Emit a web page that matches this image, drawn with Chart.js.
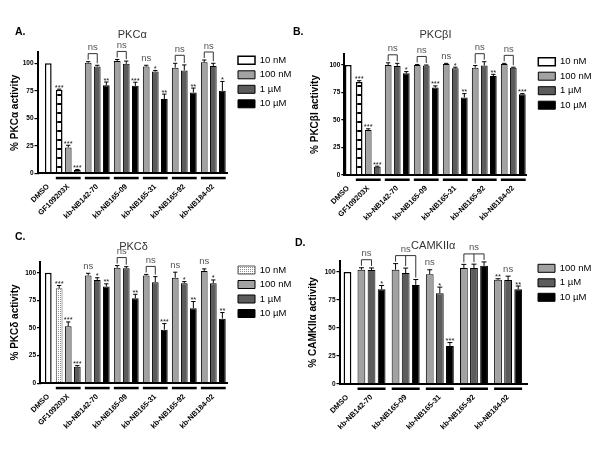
<!DOCTYPE html>
<html>
<head>
<meta charset="utf-8">
<script src="https://cdn.jsdelivr.net/npm/chart.js@4/dist/chart.umd.min.js"></script>
<style>
html,body{margin:0;padding:0;background:#fff;}
#wrap{position:relative;width:600px;height:450px;overflow:hidden;background:#fff;}
canvas{position:absolute;display:block;}
</style>
</head>
<body>
<div id="wrap">
<canvas id="cA" width="300" height="225" style="left:0;top:0;width:300px;height:225px"></canvas>
<canvas id="cB" width="315" height="225" style="left:285px;top:0;width:315px;height:225px"></canvas>
<canvas id="cC" width="300" height="225" style="left:0;top:225px;width:300px;height:225px"></canvas>
<canvas id="cD" width="315" height="225" style="left:285px;top:225px;width:315px;height:225px"></canvas>
</div>
<script>
const FONT = '"Liberation Sans", Arial, Helvetica, sans-serif';
Chart.defaults.font.family = FONT;
Chart.defaults.color = '#000';

// ---------------- categories / ticks ----------------
const groupsABC = ['DMSO','GF109203X','kb-NB142-70','kb-NB165-09','kb-NB165-31','kb-NB165-92','kb-NB184-02'];
const groupsD   = ['DMSO','kb-NB142-70','kb-NB165-09','kb-NB165-31','kb-NB165-92','kb-NB184-02'];
const yTicks = [0, 25, 50, 75, 100];

// ---------------- Panel A : PKCα ----------------
const a_dmso    = [100, null, null, null, null, null, null];
const a_10nM    = [null, 76, null, null, null, null, null];
const a_100nM   = [null, 23.5, 100.5, 102, 97, 96, 101];
const a_1uM     = [null, 3, 97, 99.5, 92.5, 93.5, 97.5];
const a_10uM    = [null, null, 80, 79.5, 67.5, 73.5, 75];
const a_err10nM  = [null, 0.5, null, null, null, null, null];
const a_err100nM = [null, 2, 1, 1.5, 1.2, 4, 2];
const a_err1uM   = [null, 0.5, 1.2, 2.5, 1, 5, 2.5];
const a_err10uM  = [null, null, 3, 3.3, 4.5, 4, 8.5];
const a_sig10nM  = ['', '***', '', '', '', '', ''];
const a_sig100nM = ['', '***', '', '', 'ns', '', ''];
const a_sig1uM   = ['', '***', '', '', '*', '', ''];
const a_sig10uM  = ['', '', '**', '***', '**', '**', '*'];
const a_brackets = ['', '', 'pair', 'pair', '', 'pair', 'pair'];

// ---------------- Panel B : PKCβI ----------------
const b_dmso    = [100, null, null, null, null, null, null];
const b_10nM    = [null, 84.5, null, null, null, null, null];
const b_100nM   = [null, 41, 100, 100, 101, 97.5, 101];
const b_1uM     = [null, 7.5, 99, 99.5, 97, 99.5, 97.5];
const b_10uM    = [null, null, 92.5, 79.5, 70.5, 90, 73.5];
const b_err10nM  = [null, 1.2, null, null, null, null, null];
const b_err100nM = [null, 1, 2, 0.5, 0.5, 2, 0.5];
const b_err1uM   = [null, 0.5, 2.5, 0.5, 1, 3.5, 0.5];
const b_err10uM  = [null, null, 1.5, 1.5, 3.5, 1.5, 0.5];
const b_sig10nM  = ['', '***', '', '', '', '', ''];
const b_sig100nM = ['', '***', '', '', 'ns', '', ''];
const b_sig1uM   = ['', '***', '', '', '*', '', ''];
const b_sig10uM  = ['', '', '*', '***', '**', '**', '***'];
const b_brackets = ['', '', 'pair', 'pair', '', 'pair', 'pair'];

// ---------------- Panel C : PKCδ ----------------
const c_dmso    = [100, null, null, null, null, null, null];
const c_10nM    = [null, 86, null, null, null, null, null];
const c_100nM   = [null, 51.5, 97.5, 104.5, 97.5, 95.5, 101.5];
const c_1uM     = [null, 15, 93.5, 104, 91.5, 90.5, 90.5];
const c_10uM    = [null, null, 87.5, 77, 48.5, 68, 58.5];
const c_err10nM  = [null, 2.5, null, null, null, null, null];
const c_err100nM = [null, 4, 2, 2, 1, 5, 2];
const c_err1uM   = [null, 1, 2, 1.5, 5, 1.5, 3];
const c_err10uM  = [null, null, 2.5, 3.5, 5.5, 6, 5.5];
const c_sig10nM  = ['', '***', '', '', '', '', ''];
const c_sig100nM = ['', '***', 'ns', '', '', 'ns', 'ns'];
const c_sig1uM   = ['', '***', '*', '', '', '*', '*'];
const c_sig10uM  = ['', '', '**', '**', '***', '**', '**'];
const c_brackets = ['', '', '', 'pair', 'pair', '', ''];

// ---------------- Panel D : CAMKIIα ----------------
const d_dmso    = [100, null, null, null, null, null];
const d_100nM   = [null, 102, 102, 98, 103.5, 93];
const d_1uM     = [null, 101.8, 99, 81, 103.5, 92.8];
const d_10uM    = [null, 84.5, 88.5, 34, 105.5, 84.5];
const d_err100nM = [null, 1.8, 5.5, 4, 3.3, 1];
const d_err1uM   = [null, 1.8, 4.5, 5.5, 3.5, 3.5];
const d_err10uM  = [null, 3.5, 4.8, 3, 3.5, 3];
const d_sig100nM = ['', '', '', 'ns', '', '**'];
const d_sig1uM   = ['', '', '', '*', '', 'ns'];
const d_sig10uM  = ['', '*', '', '***', '', '**'];
const d_brackets = ['', 'pair', 'all', '', 'all', ''];

// ---------------- styles ----------------
const C100 = '#a2a2a2', C1 = '#5c5c5c', C10 = '#000000';
function rungPattern() {
  const c = document.createElement('canvas'); c.width = 8; c.height = 9;
  const g = c.getContext('2d');
  g.fillStyle = '#fff'; g.fillRect(0, 0, 8, 9);
  g.fillStyle = '#000'; g.fillRect(0, 4, 5, 2);
  return g.createPattern(c, 'repeat');
}
function dotPattern() {
  const c = document.createElement('canvas'); c.width = 2; c.height = 2;
  const g = c.getContext('2d');
  g.fillStyle = '#fff'; g.fillRect(0, 0, 2, 2);
  g.fillStyle = '#8a8a8a'; g.fillRect(0, 0, 1, 1);
  return g.createPattern(c, 'repeat');
}
const RUNG = rungPattern();
const DOTS = dotPattern();

// ---------------- plugins ----------------
const annot = {
  id: 'annot',
  afterDatasetsDraw(chart, args, o) {
    const ctx = chart.ctx, ys = chart.scales.y, xs = chart.scales.x;
    const gb = [];
    ctx.save();
    chart.data.datasets.forEach((ds, di) => {
      const meta = chart.getDatasetMeta(di);
      meta.data.forEach((el, j) => {
        const d = ds.data[j];
        const top = ys.getPixelForValue(d.y);
        const errTop = ys.getPixelForValue(d.y + (d.err || 0));
        if (d.err) {
          const cap = el.width * 0.32;
          ctx.strokeStyle = '#000'; ctx.lineWidth = 1;
          ctx.beginPath();
          ctx.moveTo(el.x, top); ctx.lineTo(el.x, errTop);
          ctx.moveTo(el.x - cap, errTop); ctx.lineTo(el.x + cap, errTop);
          ctx.stroke();
        }
        if (d.sig) {
          ctx.textAlign = 'center'; ctx.textBaseline = 'alphabetic';
          if (d.sig === 'ns') {
            ctx.fillStyle = '#555'; ctx.font = '9.5px ' + FONT;
            ctx.fillText('ns', el.x, errTop - 4.5);
          } else {
            ctx.fillStyle = '#222'; ctx.font = '7.5px ' + FONT;
            ctx.fillText(d.sig, el.x, errTop + 0.5);
          }
        }
        (gb[d.g] = gb[d.g] || []).push({x: el.x, w: el.width, errTop, slot: d.x});
      });
    });
    gb.forEach((bars, gi) => {
      if (!bars) return;
      bars.sort((a, b) => a.slot - b.slot);
      if (bars.length > 1) {
        const first = bars[0], last = bars[bars.length - 1];
        const l = first.x - first.w / 2, r = last.x + last.w / 2;
        ctx.fillStyle = '#000';
        ctx.fillRect(l, xs.top + 3.5, r - l, 2.5);
      }
      const br = o.brackets[gi];
      if (br) {
        const span = br === 'pair' ? bars.slice(0, 2) : bars;
        const level = Math.min(...span.map(b => b.errTop)) - 8;
        ctx.strokeStyle = '#333'; ctx.lineWidth = 1;
        ctx.beginPath();
        ctx.moveTo(span[0].x, level); ctx.lineTo(span[span.length - 1].x, level);
        span.forEach(b => { ctx.moveTo(b.x, level); ctx.lineTo(b.x, Math.max(level + 4, b.errTop - 2)); });
        ctx.stroke();
        const mid = span.length === 3 ? span[1].x : (span[0].x + span[1].x) / 2;
        ctx.fillStyle = '#555'; ctx.font = '9.5px ' + FONT;
        ctx.textAlign = 'center'; ctx.textBaseline = 'alphabetic';
        ctx.fillText('ns', mid, level - 3.5);
      }
    });
    ctx.restore();
  }
};
const letter = {
  id: 'letter',
  afterDraw(chart, args, o) {
    const ctx = chart.ctx;
    ctx.save();
    ctx.font = 'bold 10.5px ' + FONT; ctx.fillStyle = '#000';
    ctx.textAlign = 'left'; ctx.textBaseline = 'middle';
    ctx.fillText(o.text, o.x, o.y);
    ctx.restore();
  }
};

// ---------------- builder ----------------
function buildChart(canvasId, P) {
  const G = P.geom;
  let start = 0;
  const centers = [];
  const xpos = P.series.map(() => []);
  P.groups.forEach((g, gi) => {
    let k = 0;
    P.series.forEach((s, si) => {
      if (s.values[gi] != null) { xpos[si][gi] = start + k; k++; } else xpos[si][gi] = null;
    });
    centers.push(start + (k - 1) / 2);
    start += k + G.groupGap;
  });
  const datasets = P.series.map((s, si) => ({
    label: s.label,
    data: P.groups.map((g, gi) => s.values[gi] == null ? null : {
      x: xpos[si][gi], y: s.values[gi],
      err: s.errs ? (s.errs[gi] || 0) : 0,
      sig: s.sigs ? s.sigs[gi] : '', g: gi
    }).filter(d => d),
    backgroundColor: s.bg, borderColor: s.border || '#000', borderWidth: s.bw || 1,
    grouped: false, barPercentage: G.barPct, categoryPercentage: 1,
    legendFill: s.legendFill
  }));
  return new Chart(document.getElementById(canvasId), {
    type: 'bar',
    data: {datasets},
    plugins: [annot, letter],
    options: {
      responsive: false, animation: false, devicePixelRatio: 1,
      layout: {padding: {top: 0, left: 0, right: 5, bottom: 0}},
      scales: {
        x: {
          type: 'linear', min: G.xMin, max: G.xMax, offset: false,
          grid: {display: false, drawTicks: false},
          border: {display: true, color: '#000', width: 2, z: 1},
          afterBuildTicks: s => { s.ticks = centers.map(v => ({value: v})); },
          afterFit: s => { s.height = G.xAxisH; },
          ticks: {autoSkip: false, minRotation: 45, maxRotation: 45, padding: 9, color: '#000',
                  font: {size: 7.5, weight: 'bold'}, callback: (v, i) => P.groups[i]}
        },
        y: {
          type: 'linear', min: 0, max: 110,
          afterBuildTicks: s => { s.ticks = yTicks.map(v => ({value: v})); },
          afterFit: s => { s.width = G.yAxisW; },
          grid: {display: true, drawOnChartArea: false, drawTicks: true, tickLength: 3, color: '#000', lineWidth: 1.2},
          border: {display: true, color: '#000', width: 2, z: 1},
          ticks: {padding: 1, color: '#000', font: {size: 6.5, weight: 'bold'}},
          title: {display: true, text: P.yTitle, color: '#000', font: {size: 10, weight: 'bold'},
                  padding: {top: G.yTitlePad, bottom: 0}}
        },
        gap: {
          type: 'linear', position: 'right', display: true,
          grid: {display: false}, border: {display: false}, ticks: {display: false},
          afterFit: s => { s.width = G.gapW; }
        }
      },
      plugins: {
        title: {display: true, text: P.title, fullSize: false, color: '#333',
                font: {size: 11, weight: 'normal'}, padding: G.titlePad},
        legend: {
          position: 'right', align: 'start', maxWidth: G.lgMaxW,
          title: {display: true, text: '', font: {size: 1}, padding: {top: G.lgTitleH - 1.2, bottom: 0}},
          labels: {
            boxWidth: 17, boxHeight: 8, padding: 5, color: '#000', font: {size: 9.5},
            generateLabels(chart) {
              return Chart.defaults.plugins.legend.labels.generateLabels(chart)
                .filter(it => it.text !== 'DMSO')
                .map(it => { const ds = chart.data.datasets[it.datasetIndex]; if (ds.legendFill) it.fillStyle = ds.legendFill; return it; });
            }
          }
        },
        tooltip: {enabled: false},
        annot: {brackets: P.brackets},
        letter: G.letter
      }
    }
  });
}

buildChart('cA', {
  groups: groupsABC, title: 'PKCα', yTitle: '% PKCα activity', brackets: a_brackets,
  series: [
    {label: 'DMSO', values: a_dmso, bg: '#fff', bw: 1.5},
    {label: '10 nM', values: a_10nM, errs: a_err10nM, sigs: a_sig10nM, bg: RUNG, bw: 1.5, legendFill: '#fff'},
    {label: '100 nM', values: a_100nM, errs: a_err100nM, sigs: a_sig100nM, bg: C100},
    {label: '1 µM', values: a_1uM, errs: a_err1uM, sigs: a_sig1uM, bg: C1},
    {label: '10 µM', values: a_10uM, errs: a_err10uM, sigs: a_sig10uM, bg: C10}
  ],
  geom: {yAxisW: 37.5, yTitlePad: 9, xAxisH: 51.7, titlePad: {top: 28.4, bottom: 10.7},
         lgMaxW: 62, gapW: 6, lgTitleH: 50.55, xMin: -1.19, xMax: 19.71, groupGap: 0.2, barPct: 0.74,
         letter: {text: 'A.', x: 15, y: 32}}
});

buildChart('cB', {
  groups: groupsABC, title: 'PKCβI', yTitle: '% PKCβI activity', brackets: b_brackets,
  series: [
    {label: 'DMSO', values: b_dmso, bg: '#fff', bw: 1.5},
    {label: '10 nM', values: b_10nM, errs: b_err10nM, sigs: b_sig10nM, bg: RUNG, bw: 1.5, legendFill: '#fff'},
    {label: '100 nM', values: b_100nM, errs: b_err100nM, sigs: b_sig100nM, bg: C100},
    {label: '1 µM', values: b_1uM, errs: b_err1uM, sigs: b_sig1uM, bg: C1},
    {label: '10 µM', values: b_10uM, errs: b_err10uM, sigs: b_sig10uM, bg: C10}
  ],
  geom: {yAxisW: 59.3, yTitlePad: 24, xAxisH: 50, titlePad: {top: 28.4, bottom: 12.4},
         lgMaxW: 61.7, gapW: 6.6, lgTitleH: 51.95, xMin: -0.44, xMax: 19.68, groupGap: 0.2, barPct: 0.74,
         letter: {text: 'B.', x: 8, y: 32}}
});

buildChart('cC', {
  groups: groupsABC, title: 'PKCδ', yTitle: '% PKCδ activity', brackets: c_brackets,
  series: [
    {label: 'DMSO', values: c_dmso, bg: '#fff', bw: 1.5},
    {label: '10 nM', values: c_10nM, errs: c_err10nM, sigs: c_sig10nM, bg: DOTS, border: '#555', bw: 1},
    {label: '100 nM', values: c_100nM, errs: c_err100nM, sigs: c_sig100nM, bg: C100},
    {label: '1 µM', values: c_1uM, errs: c_err1uM, sigs: c_sig1uM, bg: C1},
    {label: '10 µM', values: c_10uM, errs: c_err10uM, sigs: c_sig10uM, bg: C10}
  ],
  geom: {yAxisW: 40, yTitlePad: 9, xAxisH: 66.7, titlePad: {top: 15.4, bottom: 8.1},
         lgMaxW: 62, gapW: 6, lgTitleH: 35.25, xMin: -0.915, xMax: 19.71, groupGap: 0.2, barPct: 0.74,
         letter: {text: 'C.', x: 15, y: 11.7}}
});

buildChart('cD', {
  groups: groupsD, title: 'CAMKIIα', yTitle: '% CAMKIIα activity', brackets: d_brackets,
  series: [
    {label: 'DMSO', values: d_dmso, bg: '#fff', bw: 1.5},
    {label: '100 nM', values: d_100nM, errs: d_err100nM, sigs: d_sig100nM, bg: C100},
    {label: '1 µM', values: d_1uM, errs: d_err1uM, sigs: d_sig1uM, bg: C1},
    {label: '10 µM', values: d_10uM, errs: d_err10uM, sigs: d_sig10uM, bg: C10}
  ],
  geom: {yAxisW: 54.5, yTitlePad: 22, xAxisH: 66, titlePad: {top: 14.4, bottom: 8.2},
         lgMaxW: 62, gapW: 6, lgTitleH: 33.55, xMin: -0.79, xMax: 17.77, groupGap: 0.38, barPct: 0.77,
         letter: {text: 'D.', x: 10, y: 18.3}}
});
</script>
</body>
</html>
